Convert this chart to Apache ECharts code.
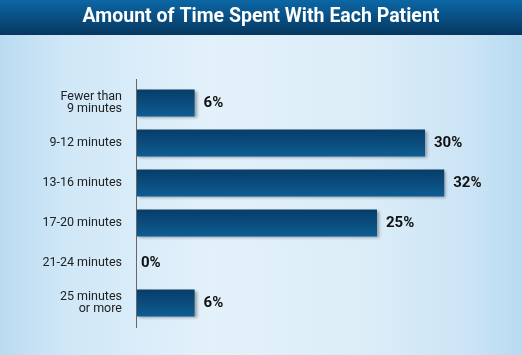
<!DOCTYPE html>
<html><head><meta charset="utf-8">
<script src="https://cdn.jsdelivr.net/npm/echarts@6/dist/echarts.min.js"></script>
<style>html,body{margin:0;padding:0;}#c{width:522px;height:355px;}</style>
</head><body><div id="c"></div>
<script>
const titleText = "Amount of Time Spent With Each Patient";
const categories = ["Fewer than\n9 minutes","9-12 minutes","13-16 minutes","17-20 minutes","21-24 minutes","25 minutes\nor more"];
const values = [6, 30, 32, 25, 0, 6];

const chart = echarts.init(document.getElementById('c'), null, {renderer:'canvas'});
const narrow = 'Roboto,"Liberation Sans",sans-serif';
chart.setOption({
  animation:false,
  backgroundColor:{type:'linear',x:0,y:0,x2:1,y2:0,colorStops:[{offset:0,color:'#b9dbf2'},{offset:0.12,color:'#cfe7f7'},{offset:0.4,color:'#e3f1fa'},{offset:0.7,color:'#dcedf8'},{offset:0.9,color:'#cbe4f5'},{offset:1,color:'#b7dbf2'}]},
  graphic:[
    {type:'rect',left:0,top:0,shape:{width:522,height:35},style:{fill:{type:'linear',x:0,y:0,x2:0,y2:1,colorStops:[{offset:0,color:'#0c67a6'},{offset:1,color:'#06375f'}]}},z:0},
    {type:'text',left:'center',top:7,style:{text:titleText,fill:'#ffffff',font:'bold 19.5px Roboto,sans-serif'},z:1},
    {type:'line',shape:{x1:136.5,y1:79,x2:136.5,y2:328},style:{stroke:'#666',lineWidth:1},z:5}
  ],
  grid:{left:137,right:1,top:83,height:240,containLabel:false},
  xAxis:{type:'value',min:0,max:40,show:false},
  yAxis:{type:'category',inverse:true,data:categories,
    axisLine:{show:false},axisTick:{show:false},
    axisLabel:{margin:15,color:'#222',fontFamily:narrow,fontSize:12.5,lineHeight:12,align:'right'}},
  series:[{type:'bar',barWidth:27,
    data:values.map(v=>({value:v,label:{distance:v===0?4:9}})),
    itemStyle:{color:{type:'linear',x:0,y:0,x2:0,y2:1,colorStops:[{offset:0,color:'#073d68'},{offset:1,color:'#0d5d93'}]},
      shadowColor:'rgba(0,0,0,0.35)',shadowBlur:3,shadowOffsetX:2,shadowOffsetY:1},
    label:{show:true,position:'right',formatter:'{c}%',color:'#111',fontFamily:narrow,fontWeight:'bold',fontSize:15}
  }]
});
</script></body></html>
